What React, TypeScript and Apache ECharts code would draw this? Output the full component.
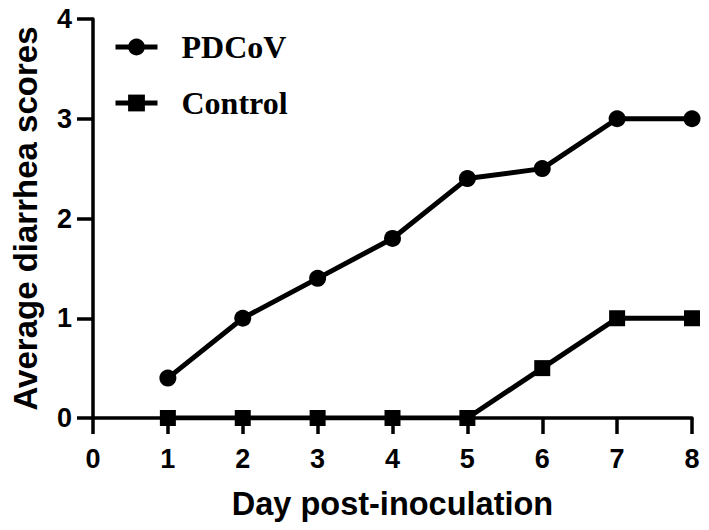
import React, { useEffect, useRef } from "react";
import * as echarts from "echarts";

const days = [1, 2, 3, 4, 5, 6, 7, 8];
const pdcov = [0.4, 1.0, 1.4, 1.8, 2.4, 2.5, 3.0, 3.0];
const control = [0, 0, 0, 0, 0, 0.5, 1.0, 1.0];

export default function App() {
  const ref = useRef<HTMLDivElement>(null);
  useEffect(() => {
    const chart = echarts.init(ref.current!, null, { renderer: "svg" });
    const axisFont = "Liberation Sans, Arial, sans-serif";
    chart.setOption({
      animation: false,
      backgroundColor: "#fff",
      grid: { left: 93, right: 17, top: 19, bottom: 112, containLabel: false },
      legend: {
        orient: "vertical",
        left: 108,
        top: 26,
        itemWidth: 42,
        itemHeight: 21,
        itemGap: 24,
        data: ["PDCoV", "Control"],
        lineStyle: { width: 5 },
        textStyle: {
          fontFamily: "Liberation Serif, Times New Roman, serif",
          fontWeight: "bold",
          fontSize: 32,
          color: "#000",
          padding: [0, 0, 0, 19],
        },
      },
      xAxis: {
        type: "value",
        min: 0,
        max: 8,
        interval: 1,
        name: "Day post-inoculation",
        nameLocation: "middle",
        nameGap: 69,
        nameTextStyle: { fontFamily: axisFont, fontWeight: "bold", fontSize: 32.5, color: "#000" },
        axisLine: { onZero: false, lineStyle: { color: "#000", width: 3.5 } },
        axisTick: { show: true, length: 16, lineStyle: { color: "#000", width: 3.5 } },
        axisLabel: { fontFamily: axisFont, fontWeight: "bold", fontSize: 27, color: "#000", margin: 27 },
        splitLine: { show: false },
      },
      yAxis: {
        type: "value",
        min: 0,
        max: 4,
        interval: 1,
        name: "Average diarrhea scores",
        nameLocation: "middle",
        nameGap: 51,
        nameRotate: 90,
        nameTextStyle: { fontFamily: axisFont, fontWeight: "bold", fontSize: 33, color: "#000" },
        axisLine: { show: true, onZero: false, lineStyle: { color: "#000", width: 3.5 } },
        axisTick: { show: true, length: 16, lineStyle: { color: "#000", width: 3.5 } },
        axisLabel: { fontFamily: axisFont, fontWeight: "bold", fontSize: 27, color: "#000", margin: 21 },
        splitLine: { show: false },
      },
      series: [
        {
          name: "PDCoV",
          type: "line",
          data: days.map((d, i) => [d, pdcov[i]]),
          symbol: "circle",
          symbolSize: 17,
          lineStyle: { color: "#000", width: 5 },
          itemStyle: { color: "#000" },
          z: 3,
        },
        {
          name: "Control",
          type: "line",
          data: days.map((d, i) => [d, control[i]]),
          symbol: "rect",
          symbolSize: 16,
          lineStyle: { color: "#000", width: 5 },
          itemStyle: { color: "#000" },
          z: 3,
        },
      ],
    });
    return () => chart.dispose();
  }, []);
  return <div ref={ref} style={{ width: 709, height: 530, position: "absolute", left: 0, top: 0 }} />;
}
